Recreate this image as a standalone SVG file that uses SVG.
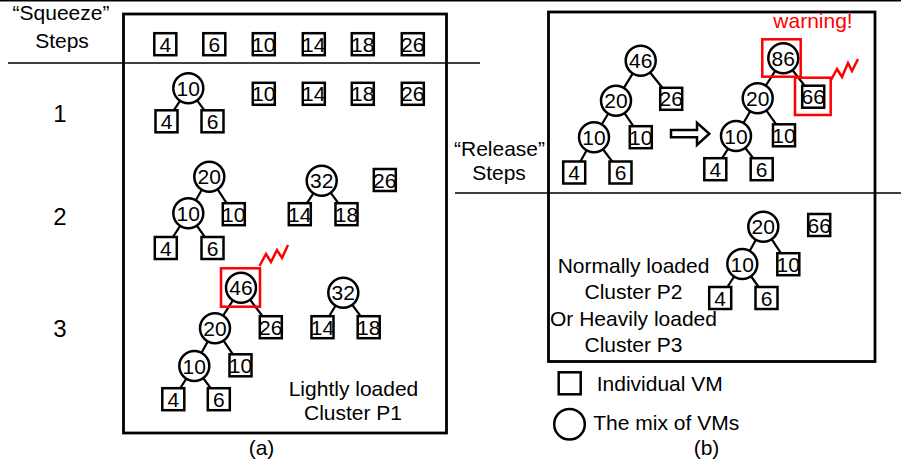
<svg xmlns="http://www.w3.org/2000/svg" width="901" height="465" viewBox="0 0 901 465">
<style>
.b{fill:#fff;stroke:#000;stroke-width:2.5}
.c{fill:#fff;stroke:#000;stroke-width:2.5}
.r{fill:none;stroke:#f00;stroke-width:2.5}
.z{fill:none;stroke:#f00;stroke-width:2.5;stroke-linejoin:miter}
.e{stroke:#000;stroke-width:2.2;fill:none}
.frame{fill:none;stroke:#000;stroke-width:2.8}
.sep{stroke:#000;stroke-width:1.5}
text{font-family:"Liberation Sans",Arial,sans-serif;fill:#000}
.n{font-size:21px;text-anchor:middle}
.l{font-size:21px;text-anchor:middle}
.s{font-size:24px;text-anchor:middle}
.lg{font-size:21px}
.w{font-size:21px;text-anchor:middle;fill:#f00}
</style>
<defs>
<rect id="sq" x="-11" y="-11" width="22" height="22" class="b"/>
<circle id="ci" r="15" class="c"/>
</defs>

<g id="frames">
<line class="sep" x1="0" y1="0.8" x2="901" y2="0.8"/>
<line class="sep" x1="8" y1="63" x2="480" y2="63"/>
<line class="sep" x1="455" y1="193" x2="901" y2="193"/>
<rect class="frame" x="123.5" y="14" width="323" height="419"/>
<rect class="frame" x="548.5" y="12" width="326.5" height="349.5"/>
</g>

<g id="labels">
<text class="l" x="61" y="20">“Squeeze”</text>
<text class="l" x="62" y="47.5">Steps</text>
<text class="s" x="60" y="121.5">1</text>
<text class="s" x="60" y="225">2</text>
<text class="s" x="60" y="336.5">3</text>
<text class="l" x="353.5" y="396">Lightly loaded</text>
<text class="l" x="353" y="420">Cluster P1</text>
<text class="l" x="261.5" y="455">(a)</text>
<text class="l" x="499.5" y="156">“Release”</text>
<text class="l" x="499" y="180">Steps</text>
<text class="w" x="813" y="28.3">warning!</text>
<text class="l" x="633.5" y="273.3">Normally loaded</text>
<text class="l" x="633.5" y="299.3">Cluster P2</text>
<text class="l" x="633.5" y="325.7">Or Heavily loaded</text>
<text class="l" x="633.5" y="351.7">Cluster P3</text>
<text class="l" x="706.5" y="455">(b)</text>
</g>

<g id="connectors">
<line class="e" x1="188.3" y1="88.3" x2="166.5" y2="121.3"/>
<line class="e" x1="188.3" y1="88.3" x2="212.5" y2="121.3"/>
<line class="e" x1="209.3" y1="176.7" x2="188.3" y2="213.3"/>
<line class="e" x1="209.3" y1="176.7" x2="233.8" y2="214.2"/>
<line class="e" x1="188.3" y1="213.3" x2="165.8" y2="248"/>
<line class="e" x1="188.3" y1="213.3" x2="212.5" y2="248"/>
<line class="e" x1="321.7" y1="180.7" x2="299.8" y2="214.2"/>
<line class="e" x1="321.7" y1="180.7" x2="346.5" y2="214.2"/>
<line class="e" x1="241" y1="287.7" x2="215" y2="328.3"/>
<line class="e" x1="241" y1="287.7" x2="270.8" y2="327.2"/>
<line class="e" x1="215" y1="328.3" x2="194.3" y2="366"/>
<line class="e" x1="215" y1="328.3" x2="240.5" y2="365.3"/>
<line class="e" x1="194.3" y1="366" x2="173.3" y2="399.2"/>
<line class="e" x1="194.3" y1="366" x2="218.8" y2="399.2"/>
<line class="e" x1="343.3" y1="292.7" x2="322.5" y2="327.2"/>
<line class="e" x1="343.3" y1="292.7" x2="368.7" y2="327.2"/>
<line class="e" x1="640.7" y1="60.7" x2="616" y2="100.7"/>
<line class="e" x1="640.7" y1="60.7" x2="671.2" y2="98.8"/>
<line class="e" x1="616" y1="100.7" x2="594" y2="137.3"/>
<line class="e" x1="616" y1="100.7" x2="640.8" y2="137.2"/>
<line class="e" x1="594" y1="137.3" x2="574.2" y2="172.5"/>
<line class="e" x1="594" y1="137.3" x2="620.5" y2="172.5"/>
<line class="e" x1="783.3" y1="58.3" x2="757.7" y2="98.3"/>
<line class="e" x1="783.3" y1="58.3" x2="813.2" y2="96.7"/>
<line class="e" x1="757.7" y1="98.3" x2="736" y2="136"/>
<line class="e" x1="757.7" y1="98.3" x2="784" y2="135.3"/>
<line class="e" x1="736" y1="136" x2="715.3" y2="169.2"/>
<line class="e" x1="736" y1="136" x2="761.7" y2="169.2"/>
<line class="e" x1="763.3" y1="226.7" x2="742.3" y2="264"/>
<line class="e" x1="763.3" y1="226.7" x2="788.3" y2="264.2"/>
<line class="e" x1="742.3" y1="264" x2="720.2" y2="298"/>
<line class="e" x1="742.3" y1="264" x2="766.5" y2="298"/>
</g>

<!-- initial VMs -->
<g id="s0-4"><use href="#sq" x="165.3" y="44.2"/><text class="n" x="165.3" y="51.7">4</text></g>
<g id="s0-6"><use href="#sq" x="214.3" y="44.2"/><text class="n" x="214.3" y="51.7">6</text></g>
<g id="s0-10"><use href="#sq" x="263.8" y="44.2"/><text class="n" x="263.8" y="51.7">10</text></g>
<g id="s0-14"><use href="#sq" x="313.8" y="44.2"/><text class="n" x="313.8" y="51.7">14</text></g>
<g id="s0-18"><use href="#sq" x="362.8" y="44.2"/><text class="n" x="362.8" y="51.7">18</text></g>
<g id="s0-26"><use href="#sq" x="412.8" y="44.2"/><text class="n" x="412.8" y="51.7">26</text></g>

<!-- step 1 -->
<g id="s1-c10"><use href="#ci" x="188.3" y="88.3"/><text class="n" x="188.3" y="95.8">10</text></g>
<g id="s1-4"><use href="#sq" x="166.5" y="121.3"/><text class="n" x="166.5" y="128.8">4</text></g>
<g id="s1-6"><use href="#sq" x="212.5" y="121.3"/><text class="n" x="212.5" y="128.8">6</text></g>
<g id="s1-10"><use href="#sq" x="263.8" y="93.8"/><text class="n" x="263.8" y="101.3">10</text></g>
<g id="s1-14"><use href="#sq" x="313.8" y="93.8"/><text class="n" x="313.8" y="101.3">14</text></g>
<g id="s1-18"><use href="#sq" x="362.8" y="93.8"/><text class="n" x="362.8" y="101.3">18</text></g>
<g id="s1-26"><use href="#sq" x="412.8" y="93.8"/><text class="n" x="412.8" y="101.3">26</text></g>

<!-- step 2 -->
<g id="s2-c20"><use href="#ci" x="209.3" y="176.7"/><text class="n" x="209.3" y="184.2">20</text></g>
<g id="s2-c10"><use href="#ci" x="188.3" y="213.3"/><text class="n" x="188.3" y="220.8">10</text></g>
<g id="s2-10"><use href="#sq" x="233.8" y="214.2"/><text class="n" x="233.8" y="221.7">10</text></g>
<g id="s2-4"><use href="#sq" x="165.8" y="248"/><text class="n" x="165.8" y="255.5">4</text></g>
<g id="s2-6"><use href="#sq" x="212.5" y="248"/><text class="n" x="212.5" y="255.5">6</text></g>
<g id="s2-c32"><use href="#ci" x="321.7" y="180.7"/><text class="n" x="321.7" y="188.2">32</text></g>
<g id="s2-14"><use href="#sq" x="299.8" y="214.2"/><text class="n" x="299.8" y="221.7">14</text></g>
<g id="s2-18"><use href="#sq" x="346.5" y="214.2"/><text class="n" x="346.5" y="221.7">18</text></g>
<g id="s2-26"><use href="#sq" x="384.8" y="180"/><text class="n" x="384.8" y="187.5">26</text></g>

<!-- step 3 -->
<g id="s3-c46"><use href="#ci" x="241" y="287.7"/><text class="n" x="241" y="295.2">46</text>
<rect class="r" x="221" y="268.3" width="39" height="38.4"/>
<polyline class="z" points="259.5,266 266,254 271,262 277,250 282,258 288,245"/></g>
<g id="s3-c20"><use href="#ci" x="215" y="328.3"/><text class="n" x="215" y="335.8">20</text></g>
<g id="s3-26"><use href="#sq" x="270.8" y="327.2"/><text class="n" x="270.8" y="334.7">26</text></g>
<g id="s3-c10"><use href="#ci" x="194.3" y="366"/><text class="n" x="194.3" y="373.5">10</text></g>
<g id="s3-10"><use href="#sq" x="240.5" y="365.3"/><text class="n" x="240.5" y="372.8">10</text></g>
<g id="s3-4"><use href="#sq" x="173.3" y="399.2"/><text class="n" x="173.3" y="406.7">4</text></g>
<g id="s3-6"><use href="#sq" x="218.8" y="399.2"/><text class="n" x="218.8" y="406.7">6</text></g>
<g id="s3-c32"><use href="#ci" x="343.3" y="292.7"/><text class="n" x="343.3" y="300.2">32</text></g>
<g id="s3-14"><use href="#sq" x="322.5" y="327.2"/><text class="n" x="322.5" y="334.7">14</text></g>
<g id="s3-18"><use href="#sq" x="368.7" y="327.2"/><text class="n" x="368.7" y="334.7">18</text></g>

<!-- (b) left tree -->
<g id="r0-c46"><use href="#ci" x="640.7" y="60.7"/><text class="n" x="640.7" y="68.2">46</text></g>
<g id="r0-c20"><use href="#ci" x="616" y="100.7"/><text class="n" x="616" y="108.2">20</text></g>
<g id="r0-26"><use href="#sq" x="671.2" y="98.8"/><text class="n" x="671.2" y="106.3">26</text></g>
<g id="r0-c10"><use href="#ci" x="594" y="137.3"/><text class="n" x="594" y="144.8">10</text></g>
<g id="r0-10"><use href="#sq" x="640.8" y="137.2"/><text class="n" x="640.8" y="144.7">10</text></g>
<g id="r0-4"><use href="#sq" x="574.2" y="172.5"/><text class="n" x="574.2" y="180">4</text></g>
<g id="r0-6"><use href="#sq" x="620.5" y="172.5"/><text class="n" x="620.5" y="180">6</text></g>

<g id="arrow"><polygon points="671,130 697,130 697,122.7 709.3,133.7 697,145 697,137.3 671,137.3" fill="#fff" stroke="#000" stroke-width="2.5" stroke-linejoin="miter"/></g>

<!-- (b) right tree -->
<g id="r1-c86"><use href="#ci" x="783.3" y="58.3"/><text class="n" x="783.3" y="65.8">86</text>
<rect class="r" x="762.3" y="39.3" width="38.4" height="37.4"/></g>
<g id="r1-66"><use href="#sq" x="813.2" y="96.7"/><text class="n" x="813.2" y="104.2">66</text>
<rect class="r" x="795" y="77.7" width="35.7" height="37.3"/>
<polyline class="z" points="831,80 837,69 842,77 848,63 852,71 858,59"/></g>
<g id="r1-c20"><use href="#ci" x="757.7" y="98.3"/><text class="n" x="757.7" y="105.8">20</text></g>
<g id="r1-c10"><use href="#ci" x="736" y="136"/><text class="n" x="736" y="143.5">10</text></g>
<g id="r1-10"><use href="#sq" x="784" y="135.3"/><text class="n" x="784" y="142.8">10</text></g>
<g id="r1-4"><use href="#sq" x="715.3" y="169.2"/><text class="n" x="715.3" y="176.7">4</text></g>
<g id="r1-6"><use href="#sq" x="761.7" y="169.2"/><text class="n" x="761.7" y="176.7">6</text></g>

<!-- (b) bottom tree -->
<g id="r2-c20"><use href="#ci" x="763.3" y="226.7"/><text class="n" x="763.3" y="234.2">20</text></g>
<g id="r2-66"><use href="#sq" x="819.2" y="225"/><text class="n" x="819.2" y="232.5">66</text></g>
<g id="r2-c10"><use href="#ci" x="742.3" y="264"/><text class="n" x="742.3" y="271.5">10</text></g>
<g id="r2-10"><use href="#sq" x="788.3" y="264.2"/><text class="n" x="788.3" y="271.7">10</text></g>
<g id="r2-4"><use href="#sq" x="720.2" y="298"/><text class="n" x="720.2" y="305.5">4</text></g>
<g id="r2-6"><use href="#sq" x="766.5" y="298"/><text class="n" x="766.5" y="305.5">6</text></g>

<!-- legend -->
<g id="legend-vm"><use href="#sq" x="569.7" y="383.3"/><text class="lg" x="596.7" y="390.7">Individual VM</text></g>
<g id="legend-mix"><circle cx="569.5" cy="424.2" r="15.3" class="c"/><text class="lg" x="593.3" y="430">The mix of VMs</text></g>
</svg>
